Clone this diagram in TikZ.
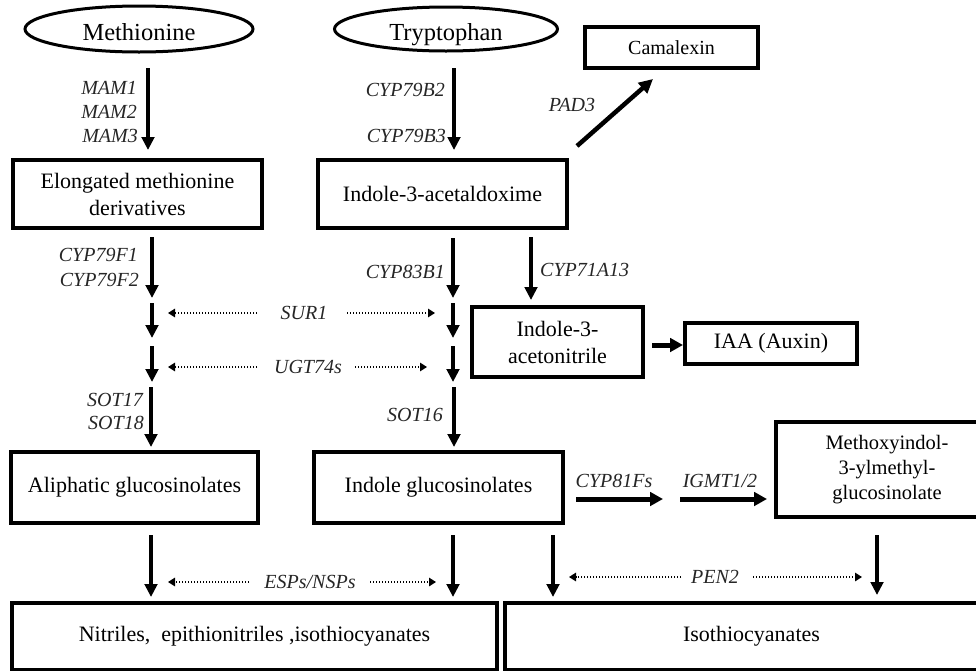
\documentclass[tikz,border=0pt]{standalone}
\usepackage{fontspec}
\setmainfont{Liberation Serif}
\usetikzlibrary{arrows.meta,shapes.geometric}

\begin{document}
\begin{tikzpicture}[x=1pt,y=-1pt,
  box/.style={draw, line width=3.5pt, inner sep=0pt, align=center, text=black,
    font=\fontsize{22}{27}\selectfont},
  smallbox/.style={box, font=\fontsize{20.5}{25}\selectfont},
  oval/.style={draw, ellipse, line width=3pt, inner sep=0pt, text=black,
    text height=23pt, text depth=0pt, font=\fontsize{24.5}{28}\selectfont},
  gene/.style={inner sep=0pt, text=black!85, font=\fontsize{20}{24}\selectfont\itshape},
  flow/.style={line width=3.5pt, -{Triangle[length=13pt,width=12.5pt]}},
  wideflow/.style={line width=5pt, -{Triangle[length=13pt,width=13.5pt]}},
  hint/.style={line width=1.4pt, dash pattern=on 1.3pt off 1.7pt,
    -{Triangle[length=7pt,width=8.5pt]}},
]
\clip (0,0) rectangle (976,670);

% precursors
\node[oval, minimum width=228pt, minimum height=46pt] (meth) at (139,29) {Methionine};
\node[oval, minimum width=223pt, minimum height=44pt] (tryp) at (446,29) {Tryptophan};

% intermediates and products
\node[box, minimum width=249pt, minimum height=68pt] (elong) at (137.5,194)
  {Elongated methionine\\derivatives};
\node[box, minimum width=249pt, minimum height=68pt] (iaox) at (442.5,194)
  {Indole-3-acetaldoxime};
\node[box, font=\fontsize{20}{24}\selectfont, minimum width=173pt, minimum height=41pt]
  (camal) at (671.5,47.5) {Camalexin};
\node[box, minimum width=171pt, minimum height=70pt] (ian) at (557.5,342)
  {Indole-3-\\acetonitrile};
\node[box, minimum width=172pt, minimum height=41pt] (iaa) at (771,343.5) {IAA (Auxin)};
\node[box, minimum width=247pt, minimum height=71pt] (aliph) at (134.5,487.5)
  {Aliphatic glucosinolates};
\node[box, minimum width=249pt, minimum height=71pt] (indgl) at (438.5,487.5)
  {Indole glucosinolates};
\node[smallbox, minimum width=222pt, minimum height=95pt] (meth4) at (887,469.5)
  {Methoxyindol-\\3-ylmethyl-\\glucosinolate};
\node[box, minimum width=485pt, minimum height=67pt] (nitr) at (254.5,636.5)
  {Nitriles,\ \ epithionitriles ,isothiocyanates};
\node[box, minimum width=493pt, minimum height=67pt] (itc) at (751.5,636.5)
  {Isothiocyanates};

% arrow end points
\coordinate (m1a) at (148,68);   \coordinate (m1b) at (148,150);
\coordinate (t1a) at (454,68);   \coordinate (t1b) at (454,150);
\coordinate (pda) at (577,146);  \coordinate (pdb) at (653,79);
\coordinate (f1a) at (152,237);  \coordinate (f1b) at (152,298);
\coordinate (f2a) at (152,303);  \coordinate (f2b) at (152,338);
\coordinate (f3a) at (152,346);  \coordinate (f3b) at (152,382);
\coordinate (f4a) at (151,387);  \coordinate (f4b) at (151,447);
\coordinate (b1a) at (453,238);  \coordinate (b1b) at (453,298);
\coordinate (b2a) at (453,303);  \coordinate (b2b) at (453,338);
\coordinate (b3a) at (453,346);  \coordinate (b3b) at (453,382);
\coordinate (b4a) at (454,387);  \coordinate (b4b) at (454,447);
\coordinate (c7a) at (531,237);  \coordinate (c7b) at (531,300);
\coordinate (axa) at (652,345);  \coordinate (axb) at (683,345);
\coordinate (c8a) at (576,499);  \coordinate (c8b) at (663,499);
\coordinate (iga) at (680,499);  \coordinate (igb) at (767,499);
\coordinate (d1a) at (151,535);  \coordinate (d1b) at (151,597);
\coordinate (d2a) at (453,535);  \coordinate (d2b) at (453,597);
\coordinate (d3a) at (553,535);  \coordinate (d3b) at (553,597);
\coordinate (d4a) at (877,535);  \coordinate (d4b) at (877,595);

% main conversions
\draw[flow] (m1a) -- (m1b);
\draw[flow] (t1a) -- (t1b);
\draw[line width=4.5pt, -{Triangle[length=14pt,width=13.5pt]}] (pda) -- (pdb);
\draw[flow] (f1a) -- (f1b);
\draw[flow] (f2a) -- (f2b);
\draw[flow] (f3a) -- (f3b);
\draw[flow] (f4a) -- (f4b);
\draw[flow] (b1a) -- (b1b);
\draw[flow] (b2a) -- (b2b);
\draw[flow] (b3a) -- (b3b);
\draw[flow] (b4a) -- (b4b);
\draw[flow] (c7a) -- (c7b);
\draw[wideflow] (axa) -- (axb);
\draw[wideflow] (c8a) -- (c8b);
\draw[wideflow] (iga) -- (igb);
\draw[flow] (d1a) -- (d1b);
\draw[flow] (d2a) -- (d2b);
\draw[flow] (d3a) -- (d3b);
\draw[flow] (d4a) -- (d4b);

% enzyme labels
\node[gene, anchor=east] (mam1) at (137,88) {MAM1};
\node[gene, anchor=east] (mam2) at (137,112) {MAM2};
\node[gene, anchor=east] (mam3) at (138,136) {MAM3};
\node[gene, anchor=east] (b2) at (445,90) {CYP79B2};
\node[gene, anchor=east] (b3) at (446,136) {CYP79B3};
\node[gene] (pad3) at (572,105) {PAD3};
\node[gene, anchor=east] (f1) at (138,255) {CYP79F1};
\node[gene, anchor=east] (f2) at (139,280) {CYP79F2};
\node[gene, anchor=east] (b83) at (445,272) {CYP83B1};
\node[gene, anchor=west] (a13) at (540,270) {CYP71A13};
\node[gene, anchor=east] (s17) at (143,400) {SOT17};
\node[gene, anchor=east] (s18) at (144,423) {SOT18};
\node[gene, anchor=east] (s16) at (443,415) {SOT16};
\node[gene] (sur) at (304,313) {SUR1};
\node[gene] (ugt) at (308,367) {UGT74s};
\node[gene] (c81) at (614,481) {CYP81Fs};
\node[gene] (igmt) at (720,481) {IGMT1/2};
\node[gene] (esp) at (310,582) {ESPs/NSPs};
\node[gene] (pen) at (715,577) {PEN2};

% shared enzymes acting on both branches
\coordinate (su1) at (257,313); \coordinate (su0) at (168,313);
\coordinate (su2) at (347,313); \coordinate (su3) at (435,313);
\coordinate (ug1) at (257,367); \coordinate (ug0) at (168,367);
\coordinate (ug2) at (355,367); \coordinate (ug3) at (427,367);
\coordinate (es1) at (249,582); \coordinate (es0) at (168,582);
\coordinate (es2) at (370,582); \coordinate (es3) at (436,582);
\coordinate (pe1) at (681,577); \coordinate (pe0) at (569,577);
\coordinate (pe2) at (753,577); \coordinate (pe3) at (862,577);
\draw[hint] (su1) -- (su0);
\draw[hint] (su2) -- (su3);
\draw[hint] (ug1) -- (ug0);
\draw[hint] (ug2) -- (ug3);
\draw[hint] (es1) -- (es0);
\draw[hint] (es2) -- (es3);
\draw[hint] (pe1) -- (pe0);
\draw[hint] (pe2) -- (pe3);
\end{tikzpicture}
\end{document}
